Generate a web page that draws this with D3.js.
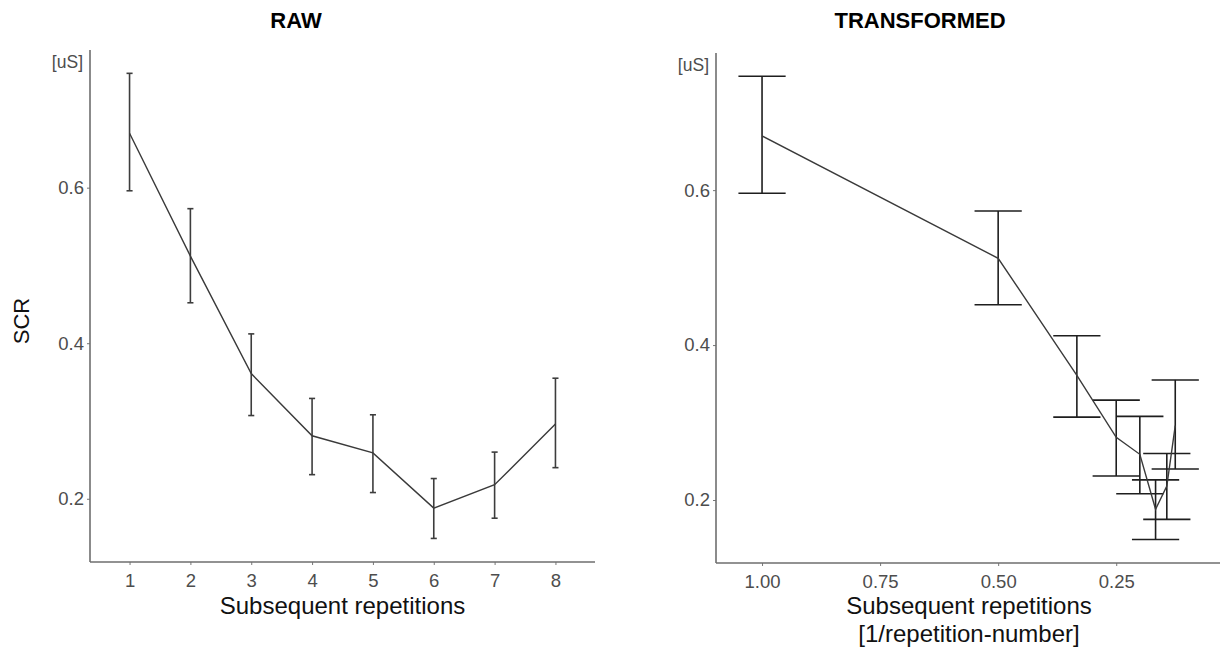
<!DOCTYPE html>
<html>
<head>
<meta charset="utf-8">
<script src="https://cdn.jsdelivr.net/npm/d3@7"></script>
<style>
  body { margin: 0; background: #fff; }
  svg { display: block; font-family: "Liberation Sans", Arial, sans-serif; }
</style>
</head>
<body>
<svg id="chart" width="1220" height="655"></svg>
<script>
// Data (SCR per repetition, mean and error-bar limits)

var reps = [1, 2, 3, 4, 5, 6, 7, 8];
var scrMean  = [0.670, 0.512, 0.361, 0.281, 0.259, 0.188, 0.218, 0.296];
var scrLower = [0.596, 0.452, 0.307, 0.231, 0.208, 0.149, 0.175, 0.240];
var scrUpper = [0.747, 0.573, 0.412, 0.329, 0.308, 0.226, 0.260, 0.355];

var yTicks = [0.2, 0.4, 0.6];
var rawXTicks = [1, 2, 3, 4, 5, 6, 7, 8];
var transXTicks = [1.00, 0.75, 0.50, 0.25];

var svg = d3.select("#chart");

// Build rows for each panel
var rows = reps.map(function (r, i) {
    return { rep: r, inv: 1 / r, mean: scrMean[i], lo: scrLower[i], hi: scrUpper[i] };
});

function drawPanel(o) {
    var g = svg.append("g");

    var x = d3.scaleLinear().domain(o.xDomain).range([o.left, o.right]);
    var y = d3.scaleLinear().domain([0.1187, 0.777]).range([o.bottom, o.top]);

    // axes
    var yAxis = d3.axisLeft(y).tickValues(yTicks).tickSize(3).tickPadding(3)
        .tickFormat(d3.format(".1f"));
    var gy = g.append("g").attr("transform", "translate(" + o.left + ",0)").call(yAxis);

    var xAxis = d3.axisBottom(x).tickValues(o.xTicks).tickSize(3).tickPadding(9)
        .tickFormat(o.xFormat);
    var gx = g.append("g").attr("transform", "translate(0," + o.bottom + ")").call(xAxis);

    [gx, gy].forEach(function (a) {
        a.select(".domain").remove();
        a.selectAll(".tick line").attr("stroke", "#777").attr("stroke-width", 1);
        a.selectAll(".tick text").attr("fill", "#4d4d4d").style("font-size", "18.5px")
            .style("font-family", "'Liberation Sans', Arial, sans-serif");
    });

    // axis lines (L shape)
    g.append("line").attr("x1", o.left).attr("x2", o.left).attr("y1", o.top).attr("y2", o.bottom)
        .attr("stroke", "#6e6e6e").attr("stroke-width", 1.6);
    g.append("line").attr("x1", o.left).attr("x2", o.right).attr("y1", o.bottom).attr("y2", o.bottom)
        .attr("stroke", "#6e6e6e").attr("stroke-width", 1.6);

    // unit label
    g.append("text").attr("x", o.left - 7).attr("y", o.top + 18).attr("text-anchor", "end")
        .attr("fill", "#4d4d4d").style("font-size", "17.5px").text("[uS]");

    // error bars
    var half = 0.05;
    var eb = g.selectAll(".eb").data(rows).enter().append("g").attr("class", "eb")
        .attr("stroke", o.ebColor).attr("stroke-width", 1.6);
    eb.append("line")
        .attr("x1", function (d) { return x(o.xv(d)); })
        .attr("x2", function (d) { return x(o.xv(d)); })
        .attr("y1", function (d) { return y(d.lo); })
        .attr("y2", function (d) { return y(d.hi); });
    eb.append("line")
        .attr("x1", function (d) { return x(o.xv(d) - half); })
        .attr("x2", function (d) { return x(o.xv(d) + half); })
        .attr("y1", function (d) { return y(d.hi); })
        .attr("y2", function (d) { return y(d.hi); });
    eb.append("line")
        .attr("x1", function (d) { return x(o.xv(d) - half); })
        .attr("x2", function (d) { return x(o.xv(d) + half); })
        .attr("y1", function (d) { return y(d.lo); })
        .attr("y2", function (d) { return y(d.lo); });

    // mean line
    var line = d3.line()
        .x(function (d) { return x(o.xv(d)); })
        .y(function (d) { return y(d.mean); });
    g.append("path").datum(rows).attr("d", line).attr("fill", "none")
        .attr("stroke", "#3a3a3a").attr("stroke-width", 1.4);

    // title
    g.append("text").attr("x", o.titleX).attr("y", 28).attr("text-anchor", "middle")
        .style("font-size", "22px").style("font-weight", "bold").attr("fill", "#000")
        .text(o.title);

    // x axis title
    var xt = g.append("text").attr("x", (o.left + o.right) / 2).attr("y", 614)
        .attr("text-anchor", "middle").style("font-size", "24px").attr("fill", "#111");
    o.xTitle.forEach(function (t, i) {
        xt.append("tspan").attr("x", (o.left + o.right) / 2).attr("dy", i === 0 ? 0 : 28).text(t);
    });
}

drawPanel({
    title: "RAW", titleX: 296,
    left: 90, right: 595, top: 50, bottom: 562,
    xDomain: [0.35, 8.65], xTicks: rawXTicks, xFormat: d3.format("d"),
    xv: function (d) { return d.rep; },
    ebColor: "#3d3d3d",
    xTitle: ["Subsequent repetitions"]
});

drawPanel({
    title: "TRANSFORMED", titleX: 920,
    left: 716, right: 1222, top: 53, bottom: 563,
    xDomain: [1.0975, 0.026], xTicks: transXTicks, xFormat: d3.format(".2f"),
    xv: function (d) { return d.inv; },
    ebColor: "#1e1e1e",
    xTitle: ["Subsequent repetitions", "[1/repetition-number]"]
});

// shared y axis title
svg.append("text").attr("transform", "translate(29,321) rotate(-90)")
    .attr("text-anchor", "middle").style("font-size", "22px").attr("fill", "#111")
    .text("SCR");
</script>
</body>
</html>
